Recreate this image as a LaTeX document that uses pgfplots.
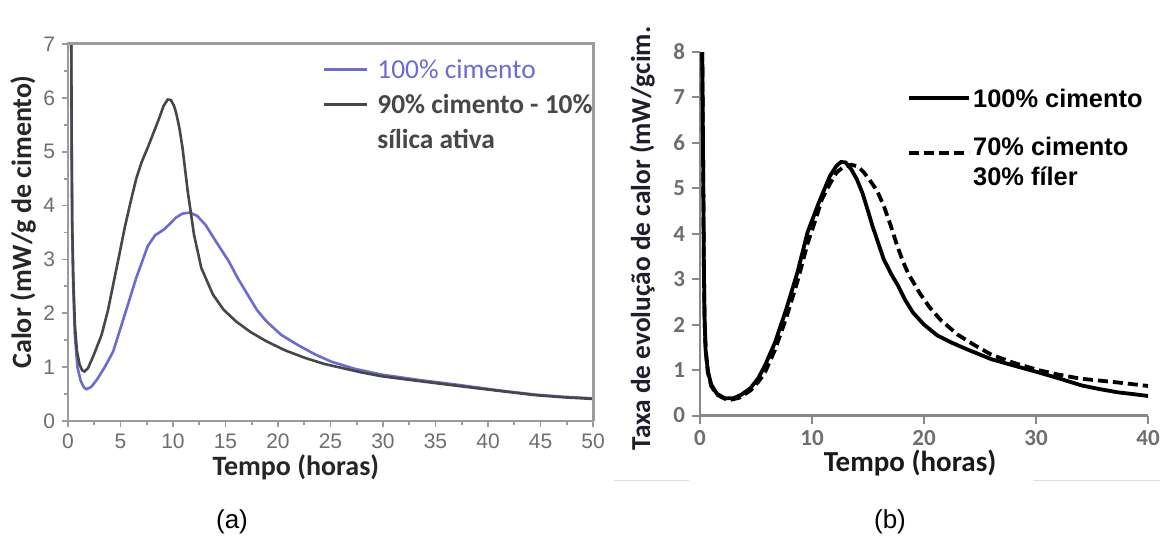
\documentclass[border=0pt]{standalone}
\usepackage{pgfplots}
\pgfplotsset{compat=1.18}
\usepackage{fontspec}
\setmainfont{Carlito}
\newfontfamily\arialfont{Liberation Sans}

\definecolor{cimblue}{HTML}{6B6BD0}
\definecolor{silgray}{HTML}{474747}
\definecolor{framegray}{HTML}{9C9C9C}
\definecolor{tickgray}{HTML}{6E6E6E}
\definecolor{labeldark}{HTML}{1E1E2C}

% legend sample for the filler series, set a little lower than its text
\pgfplotsset{lowsample/.style={legend image code/.code={\draw[##1] (0pt,-3.5pt) -- (30pt,-3.5pt);}}}

\begin{document}
\begin{tikzpicture}
\useasboundingbox (0,0) rectangle (580pt,268pt);
\fill[white] (0,0) rectangle (580pt,268pt);

% ---------- (a) silica fume ----------
\begin{axis}[
  at={(34pt,57.5pt)}, anchor=south west,
  scale only axis, width=262.5pt, height=188.5pt,
  xmin=0, xmax=50, ymin=0, ymax=7,
  xtick={0,5,...,50}, ytick={0,...,7},
  minor x tick num=1, minor y tick num=1,
  tick pos=left, tick align=outside,
  major tick length=3pt, minor tick length=2pt,
  axis line style={framegray, line width=1.3pt},
  every tick/.style={framegray, line width=0.9pt},
  ticklabel style={font=\arialfont\fontsize{10.5}{12}\selectfont, text=tickgray},
  /pgf/number format/assume math mode=true,
  xlabel={Tempo (horas)},
  ylabel={Calor (mW/g de cimento)},
  label style={font=\bfseries\fontsize{14}{16}\selectfont, text=black!85},
  xlabel style={at={(axis description cs:0.434,-0.122)}, anchor=center},
  ylabel style={at={(axis description cs:-0.0857,0.528)}, anchor=center},
  legend cell align=left,
  legend style={at={(axis description cs:0.4845,0.98)}, anchor=north west,
    draw=none, fill=none, inner sep=0pt, row sep=0pt, column sep=4.5pt,
    nodes={inner sep=0pt, text height=13.25pt, text depth=4.25pt},
    font=\fontsize{13.7}{17.5}\selectfont, text=silgray},
  legend image code/.code={\draw[#1] (0pt,0pt) -- (21.5pt,0pt);},
]
\addplot[cimblue, line width=1.3pt] coordinates {
 (0.3,7.6) (0.35,5.0) (0.4,3.5) (0.5,2.5) (0.65,1.6) (0.9,1.0) (1.2,0.75)
 (1.5,0.63) (1.75,0.59) (2.2,0.63) (2.8,0.78) (3.5,1.0) (4.3,1.29)
 (5.4,1.97) (6.5,2.66) (7.6,3.25) (8.3,3.45) (9.1,3.55) (9.7,3.66)
 (10.3,3.78) (10.9,3.85) (11.6,3.87) (12.3,3.81) (13.1,3.64) (14.2,3.3)
 (15.3,2.97) (16.2,2.64) (17.1,2.35) (18.0,2.06) (18.9,1.85) (20.3,1.6)
 (21.9,1.41) (23.5,1.24) (25.1,1.1) (27.3,0.97) (29.9,0.86) (33.5,0.76)
 (37.2,0.67) (41,0.57) (44.5,0.49) (47.2,0.45) (50,0.42)
};
\addlegendentry{\textcolor{cimblue}{100\% cimento}}
\addplot[silgray, line width=1.3pt] coordinates {
 (0.3,7.6) (0.35,5.2) (0.4,3.7) (0.5,2.7) (0.65,1.8) (0.85,1.3) (1.1,1.05)
 (1.35,0.94) (1.57,0.92) (1.9,0.98) (2.4,1.2) (3.2,1.6) (3.8,2.05)
 (4.3,2.53) (4.9,3.1) (5.4,3.59) (6.0,4.1) (6.5,4.5) (7.0,4.8)
 (7.6,5.08) (8.2,5.38) (8.7,5.63) (9.1,5.85) (9.5,5.97) (9.8,5.96)
 (10.1,5.85) (10.3,5.72) (10.6,5.45) (10.9,5.08) (11.4,4.27) (12.0,3.46)
 (12.7,2.84) (13.8,2.35) (14.8,2.07) (16.0,1.85) (17.4,1.65) (18.9,1.48)
 (20.7,1.31) (22.6,1.17) (24.4,1.06) (26.2,0.98) (28,0.9) (29.9,0.83)
 (33.5,0.74) (37.2,0.65) (41,0.56) (44.5,0.48) (47.2,0.44) (50,0.41)
};
\addlegendentry{\textbf{90\% cimento - 10\%}}
\addlegendimage{empty legend}
\addlegendentry{\textbf{sílica ativa}}
\end{axis}
% upper and right sides of the frame of (a)
\draw[color=framegray, line width=1.5pt]
  (33.35pt,246pt) -- (296.5pt,246pt) -- (296.5pt,57.5pt);

% ---------- (b) filler ----------
\begin{axis}[
  at={(350pt,60.25pt)}, anchor=south west,
  scale only axis, width=224pt, height=181.75pt,
  xmin=0, xmax=40, ymin=0, ymax=8,
  xtick={0,10,...,40}, ytick={0,...,8},
  axis lines*=left, tick align=outside,
  major tick length=4pt,
  axis line style={framegray!120, line width=1.2pt},
  every tick/.style={framegray!120, line width=1.0pt},
  ticklabel style={font=\bfseries\fontsize{11.5}{13}\selectfont, text=tickgray},
  /pgf/number format/assume math mode=true,
  xlabel={Tempo (horas)},
  ylabel={Taxa de evolução de calor (mW/gcim.},
  xlabel style={font=\bfseries\fontsize{14.5}{16}\selectfont, text=black!90,
    at={(axis description cs:0.469,-0.13)}, anchor=center},
  ylabel style={font=\bfseries\fontsize{13.7}{16}\selectfont, text=labeldark,
    at={(axis description cs:-0.129,0.487)}, anchor=center},
  legend cell align=left,
  legend style={at={(axis description cs:0.462,0.95)}, anchor=north west,
    draw=none, fill=none, inner sep=0pt, row sep=0pt, column sep=1pt,
    nodes={inner sep=0pt}, font=\arialfont\bfseries\fontsize{12.7}{15}\selectfont},
  legend image code/.code={\draw[#1] (0pt,0pt) -- (30pt,0pt);},
]
\addplot[black, line width=1.9pt] coordinates {
 (0.2,8.0) (0.25,6.5) (0.3,4.8) (0.35,3.2) (0.4,2.2) (0.5,1.45) (0.7,0.98)
 (1.0,0.68) (1.5,0.48) (2.2,0.38) (3.0,0.38) (3.7,0.46) (4.5,0.6)
 (5.2,0.82) (5.8,1.1) (6.7,1.61) (7.7,2.34) (8.7,3.15) (9.6,4.03)
 (10.6,4.68) (11.6,5.27) (12.2,5.5) (12.6,5.58) (13.0,5.57) (13.5,5.42)
 (14.0,5.2) (14.5,4.9) (15.0,4.5) (15.4,4.17) (16.4,3.44) (17.1,3.1)
 (17.7,2.85) (18.3,2.55) (19.0,2.27) (20.0,2.0) (21.2,1.76) (22.5,1.6)
 (23.8,1.46) (26.0,1.24) (28,1.1) (30.2,0.95) (32,0.82) (34.1,0.66)
 (35.7,0.58) (37.3,0.51) (38.7,0.47) (40,0.43)
};
\addlegendentry[text height=18.5pt, text depth=9.3pt]{100\% cimento}
\addplot[black, line width=1.9pt, dash pattern=on 5pt off 2.5pt, lowsample] coordinates {
 (0.2,8.0) (0.25,6.5) (0.3,4.8) (0.35,3.2) (0.4,2.2) (0.5,1.45) (0.7,0.95)
 (1.0,0.65) (1.5,0.46) (2.2,0.37) (2.8,0.35) (3.5,0.39) (4.5,0.55)
 (5.2,0.74) (5.8,0.95) (6.7,1.45) (7.7,2.15) (8.7,2.95) (9.6,3.78)
 (10.3,4.3) (10.9,4.77) (11.6,5.1) (12.2,5.35) (12.8,5.47) (13.5,5.52)
 (14.1,5.48) (14.6,5.36) (15.1,5.2) (15.8,4.95) (16.4,4.62) (17.0,4.2)
 (17.6,3.74) (18.1,3.4) (18.6,3.12) (19.6,2.7) (20.5,2.38) (21.5,2.1)
 (23.0,1.78) (24.5,1.55) (26,1.34) (28,1.16) (30.2,1.0) (32,0.9)
 (34,0.81) (35.6,0.77) (37.2,0.73) (38.6,0.69) (40,0.65)
};
\addlegendentry[text height=14.7pt, text depth=5.5pt]{70\% cimento}
\addlegendimage{empty legend}
\addlegendentry[text height=9.5pt, text depth=0.3pt]{30\% fíler}
\end{axis}

% light rules under panel (b)
\draw[black!13, line width=0.7pt] (307pt,27.75pt) -- (344.5pt,27.75pt);
\draw[black!13, line width=0.7pt] (516.5pt,27.75pt) -- (580pt,27.75pt);

% panel captions
\node[font=\arialfont\fontsize{13}{15}\selectfont] at (116pt,7pt) {(a)};
\node[font=\arialfont\fontsize{13}{15}\selectfont] at (445pt,7pt) {(b)};
\end{tikzpicture}
\end{document}
